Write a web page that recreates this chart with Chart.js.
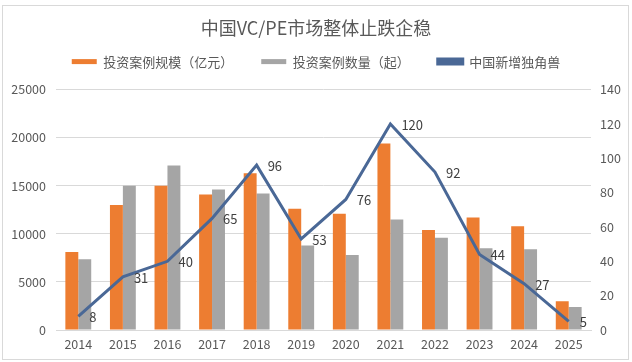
<!DOCTYPE html>
<html>
<head>
<meta charset="utf-8">
<script src="https://cdn.jsdelivr.net/npm/chart.js@4"></script>
<style>
  html, body { margin: 0; padding: 0; background: #fff; }
  #wrap { width: 632px; height: 362px; }
</style>
</head>
<body>
<div id="wrap"><canvas id="vcChart" width="632" height="362"></canvas></div>
<script>
// data
const years = ['2014', '2015', '2016', '2017', '2018', '2019', '2020', '2021', '2022', '2023', '2024', '2025'];
const investAmount = [8100, 13000, 15000, 14100, 16300, 12600, 12100, 19400, 10400, 11700, 10800, 3000];
const investCount = [7350, 15000, 17100, 14600, 14200, 8800, 7800, 11500, 9600, 8500, 8400, 2400];
const unicorns = [8, 31, 40, 65, 96, 53, 76, 120, 92, 44, 27, 5];

const fontFamily = '"Noto Sans CJK SC", "Microsoft YaHei", sans-serif';
const textColor = '#595959';

// light frame round the whole chart, like the Excel chart area
const framePlugin = {
    id: 'frame',
    beforeDraw(chart) {
        const ctx = chart.ctx;
        ctx.save();
        ctx.fillStyle = '#fff';
        ctx.fillRect(0, 0, chart.width, chart.height);
        ctx.strokeStyle = '#d9d9d9';
        ctx.lineWidth = 1;
        ctx.strokeRect(2.5, 5.5, 626, 354);
        ctx.restore();
    }
};

// the legend sits higher than chart.js would put it (wide item spacing, extra gap below)
const legendShift = {
    id: 'legendShift',
    afterLayout(chart) {
        chart.legend.top -= 11.5;
        chart.legend.bottom -= 11.5;
    }
};

// value labels to the right of each line point
const lineLabels = {
    id: 'lineLabels',
    afterDatasetsDraw(chart) {
        const ctx = chart.ctx;
        const meta = chart.getDatasetMeta(2);
        ctx.save();
        ctx.font = '13px ' + fontFamily;
        ctx.fillStyle = '#404040';
        ctx.textAlign = 'left';
        ctx.textBaseline = 'middle';
        meta.data.forEach((pt, i) => {
            ctx.fillText(String(unicorns[i]), pt.x + 11, pt.y + 1);
        });
        ctx.restore();
    }
};

const ctx = document.getElementById('vcChart').getContext('2d');
const vcChart = new Chart(ctx, {
    type: 'bar',
    data: {
        labels: years,
        datasets: [
            {
                label: '投资案例规模（亿元）',
                data: investAmount,
                backgroundColor: '#ED7D31',
                yAxisID: 'y',
                order: 2
            },
            {
                label: '投资案例数量（起）',
                data: investCount,
                backgroundColor: '#A5A5A5',
                yAxisID: 'y',
                order: 2
            },
            {
                type: 'line',
                label: '中国新增独角兽',
                data: unicorns,
                borderColor: '#4A6896',
                backgroundColor: '#4A6896',
                borderWidth: 3,
                pointRadius: 0,
                tension: 0,
                yAxisID: 'y1',
                order: 1
            }
        ]
    },
    options: {
        responsive: false,
        animation: false,
        layout: { padding: { left: 0, right: 0, top: 13, bottom: 0 } },
        datasets: {
            bar: { categoryPercentage: 0.58, barPercentage: 1.0 }
        },
        plugins: {
            title: {
                display: true,
                text: '中国VC/PE市场整体止跌企稳',
                color: textColor,
                font: { family: fontFamily, size: 18, weight: 'normal' },
                padding: { top: 4, bottom: 0 }
            },
            legend: {
                display: true,
                labels: {
                    color: textColor,
                    font: { family: fontFamily, size: 13 },
                    boxWidth: 25,
                    boxHeight: 5,
                    padding: 28,
                    sort: (a, b) => a.datasetIndex - b.datasetIndex
                }
            },
            tooltip: { enabled: false }
        },
        scales: {
            x: {
                grid: { display: false, drawTicks: false },
                border: { color: '#d9d9d9' },
                ticks: {
                    color: textColor,
                    font: { family: fontFamily, size: 12.5 },
                    padding: 7,
                    maxRotation: 0
                },
                afterFit(scale) { scale.height = 32; }
            },
            y: {
                position: 'left',
                min: 0,
                max: 25000,
                ticks: {
                    stepSize: 5000,
                    color: textColor,
                    font: { family: fontFamily, size: 12.5 },
                    padding: 10,
                    callback: v => String(v)
                },
                grid: { color: '#d9d9d9', drawTicks: false },
                border: { display: false },
                afterFit(scale) { scale.width = 56; }
            },
            y1: {
                position: 'right',
                min: 0,
                max: 140,
                ticks: {
                    stepSize: 20,
                    color: textColor,
                    font: { family: fontFamily, size: 12.5 },
                    padding: 9,
                    callback: v => String(v)
                },
                grid: { display: false, drawTicks: false },
                border: { display: false },
                afterFit(scale) { scale.width = 41; }
            }
        }
    },
    plugins: [framePlugin, legendShift, lineLabels]
});
</script>
</body>
</html>
